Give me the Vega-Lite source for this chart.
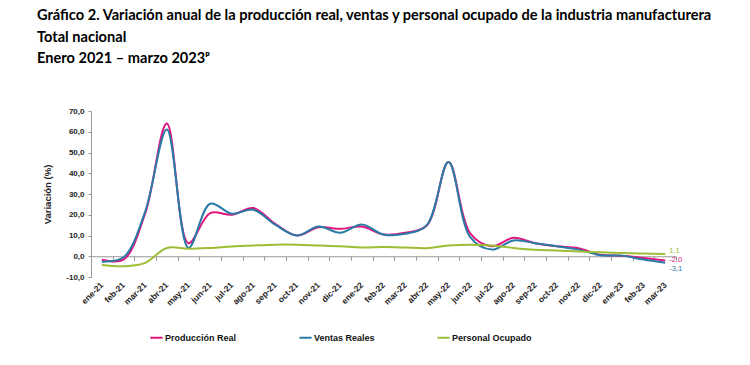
{
  "$schema": "https://vega.github.io/schema/vega-lite/v6.json",
  "autosize": "none",
  "width": 585,
  "height": 166,
  "padding": {"left": 91, "top": 111, "right": 74, "bottom": 88},
  "background": "white",
  "title": {
    "text": ["Gráfico 2. Variación anual de la producción real, ventas y personal ocupado de la industria manufacturera", "Total nacional", "Enero 2021 – marzo 2023ᵖ"],
    "anchor": "start",
    "frame": "group",
    "dx": -54,
    "offset": 41,
    "font": "Lato",
    "fontSize": 14.6,
    "fontWeight": "bold",
    "lineHeight": 21.5,
    "color": "#000000"
  },
  "config": {
    "view": {"stroke": null},
    "locale": {"number": {"decimal": ",", "thousands": ".", "grouping": [3], "currency": ["", ""], "minus": "-"}},
    "axis": {"labelFont": "Liberation Sans", "titleFont": "Liberation Sans"}
  },
  "data": {
    "values": [
      {"mes": "ene-21", "Producción Real": -1.7, "Ventas Reales": -2.6, "Personal Ocupado": -4.2},
      {"mes": "feb-21", "Producción Real": -1.6, "Ventas Reales": -0.5, "Personal Ocupado": -4.8},
      {"mes": "mar-21", "Producción Real": 20.6, "Ventas Reales": 21.5, "Personal Ocupado": -3.2},
      {"mes": "abr-21", "Producción Real": 64.0, "Ventas Reales": 61.1, "Personal Ocupado": 4.0},
      {"mes": "may-21", "Producción Real": 6.3, "Ventas Reales": 4.0, "Personal Ocupado": 3.6},
      {"mes": "jun-21", "Producción Real": 20.8, "Ventas Reales": 25.3, "Personal Ocupado": 4.0},
      {"mes": "jul-21", "Producción Real": 20.0, "Ventas Reales": 20.5, "Personal Ocupado": 4.7},
      {"mes": "ago-21", "Producción Real": 23.2, "Ventas Reales": 22.4, "Personal Ocupado": 5.2},
      {"mes": "sep-21", "Producción Real": 15.6, "Ventas Reales": 15.2, "Personal Ocupado": 5.6},
      {"mes": "oct-21", "Producción Real": 10.0, "Ventas Reales": 10.0, "Personal Ocupado": 5.6},
      {"mes": "nov-21", "Producción Real": 14.0, "Ventas Reales": 14.3, "Personal Ocupado": 5.2},
      {"mes": "dic-21", "Producción Real": 13.2, "Ventas Reales": 11.3, "Personal Ocupado": 4.8},
      {"mes": "ene-22", "Producción Real": 14.3, "Ventas Reales": 15.3, "Personal Ocupado": 4.2},
      {"mes": "feb-22", "Producción Real": 10.5, "Ventas Reales": 10.5, "Personal Ocupado": 4.4},
      {"mes": "mar-22", "Producción Real": 11.3, "Ventas Reales": 10.8, "Personal Ocupado": 4.2},
      {"mes": "abr-22", "Producción Real": 14.8, "Ventas Reales": 15.0, "Personal Ocupado": 3.9},
      {"mes": "may-22", "Producción Real": 45.4, "Ventas Reales": 45.4, "Personal Ocupado": 5.2},
      {"mes": "jun-22", "Producción Real": 11.0, "Ventas Reales": 9.2, "Personal Ocupado": 5.6},
      {"mes": "jul-22", "Producción Real": 4.8, "Ventas Reales": 3.2, "Personal Ocupado": 5.2},
      {"mes": "ago-22", "Producción Real": 8.9, "Ventas Reales": 7.6, "Personal Ocupado": 4.0},
      {"mes": "sep-22", "Producción Real": 6.3, "Ventas Reales": 6.3, "Personal Ocupado": 3.1},
      {"mes": "oct-22", "Producción Real": 4.8, "Ventas Reales": 4.8, "Personal Ocupado": 2.8},
      {"mes": "nov-22", "Producción Real": 3.9, "Ventas Reales": 3.2, "Personal Ocupado": 2.3},
      {"mes": "dic-22", "Producción Real": 0.7, "Ventas Reales": 0.5, "Personal Ocupado": 1.9},
      {"mes": "ene-23", "Producción Real": 0.3, "Ventas Reales": 0.3, "Personal Ocupado": 1.6},
      {"mes": "feb-23", "Producción Real": -0.8, "Ventas Reales": -1.6, "Personal Ocupado": 1.3},
      {"mes": "mar-23", "Producción Real": -2.0, "Ventas Reales": -3.1, "Personal Ocupado": 1.1}
    ]
  },
  "transform": [
    {"fold": ["Producción Real", "Ventas Reales", "Personal Ocupado"], "as": ["serie", "valor"]}
  ],
  "encoding": {
    "y": {
      "field": "valor", "type": "quantitative",
      "scale": {"domain": [-10, 70], "nice": false, "zero": false},
      "axis": {
        "values": [-10, 0, 10, 20, 30, 40, 50, 60, 70],
        "format": ".1f", "labelOverlap": false,
        "grid": false, "domainColor": "#999999", "tickColor": "#999999", "tickSize": 3,
        "labelFontSize": 8, "labelFontWeight": "bold", "labelColor": "#222222", "labelPadding": 4,
        "title": "Variación (%)", "titleFontSize": 9.5, "titleFontWeight": "bold", "titleColor": "#222222", "titlePadding": 13
      }
    }
  },
  "resolve": {"axis": {"x": "independent"}},
  "layer": [
    {
      "mark": {"type": "line", "interpolate": "catmull-rom", "strokeWidth": 2},
      "encoding": {
        "x": {
          "field": "mes", "type": "nominal", "sort": null,
          "scale": {"type": "band", "paddingInner": 0, "paddingOuter": 0},
          "axis": {
            "orient": "bottom", "title": null, "domain": false, "ticks": false,
            "labelAngle": -45, "labelAlign": "right", "labelBaseline": "middle",
            "labelFontSize": 8.5, "labelFontWeight": "bold", "labelColor": "#222222",
            "labelPadding": 6
          }
        },
        "color": {
          "field": "serie", "type": "nominal",
          "scale": {"domain": ["Producción Real", "Ventas Reales", "Personal Ocupado"], "range": ["#E2157F", "#2A7AA6", "#9DBE34"]},
          "legend": {
            "title": null, "orient": "none", "direction": "horizontal",
            "legendX": 58, "legendY": 219,
            "symbolType": "stroke", "symbolStrokeWidth": 2, "symbolSize": 150,
            "labelFont": "Liberation Sans", "labelFontSize": 9, "labelFontWeight": "bold", "labelColor": "#111111",
            "labelOffset": 1, "columnPadding": 58
          }
        }
      }
    },
    {
      "mark": {"type": "point", "opacity": 0},
      "encoding": {
        "x": {
          "field": "mes", "type": "nominal", "sort": null,
          "scale": {"type": "band", "paddingInner": 0, "paddingOuter": 0},
          "axis": {
            "orient": "bottom", "title": null, "labels": false, "offset": -20.75,
            "domain": true, "domainColor": "#999999", "ticks": true, "tickColor": "#999999",
            "tickSize": 4, "tickBand": "extent"
          }
        }
      }
    },
    {
      "transform": [{"filter": "datum.mes === 'mar-23' && datum.serie === 'Personal Ocupado'"}],
      "mark": {"type": "text", "align": "left", "dx": 4, "dy": -3, "fontSize": 7.5, "font": "Liberation Sans", "color": "#9DBE34"},
      "encoding": {
        "x": {"field": "mes", "type": "nominal", "sort": null, "axis": null},
        "text": {"field": "valor", "type": "quantitative", "format": ".1f"}
      }
    },
    {
      "transform": [{"filter": "datum.mes === 'mar-23' && datum.serie === 'Producción Real'"}],
      "mark": {"type": "text", "align": "left", "dx": 4, "dy": 0, "fontSize": 7.5, "font": "Liberation Sans", "color": "#E2157F"},
      "encoding": {
        "x": {"field": "mes", "type": "nominal", "sort": null, "axis": null},
        "text": {"field": "valor", "type": "quantitative", "format": ".1f"}
      }
    },
    {
      "transform": [{"filter": "datum.mes === 'mar-23' && datum.serie === 'Ventas Reales'"}],
      "mark": {"type": "text", "align": "left", "dx": 4, "dy": 6, "fontSize": 7.5, "font": "Liberation Sans", "color": "#2A7AA6"},
      "encoding": {
        "x": {"field": "mes", "type": "nominal", "sort": null, "axis": null},
        "text": {"field": "valor", "type": "quantitative", "format": ".1f"}
      }
    }
  ]
}
